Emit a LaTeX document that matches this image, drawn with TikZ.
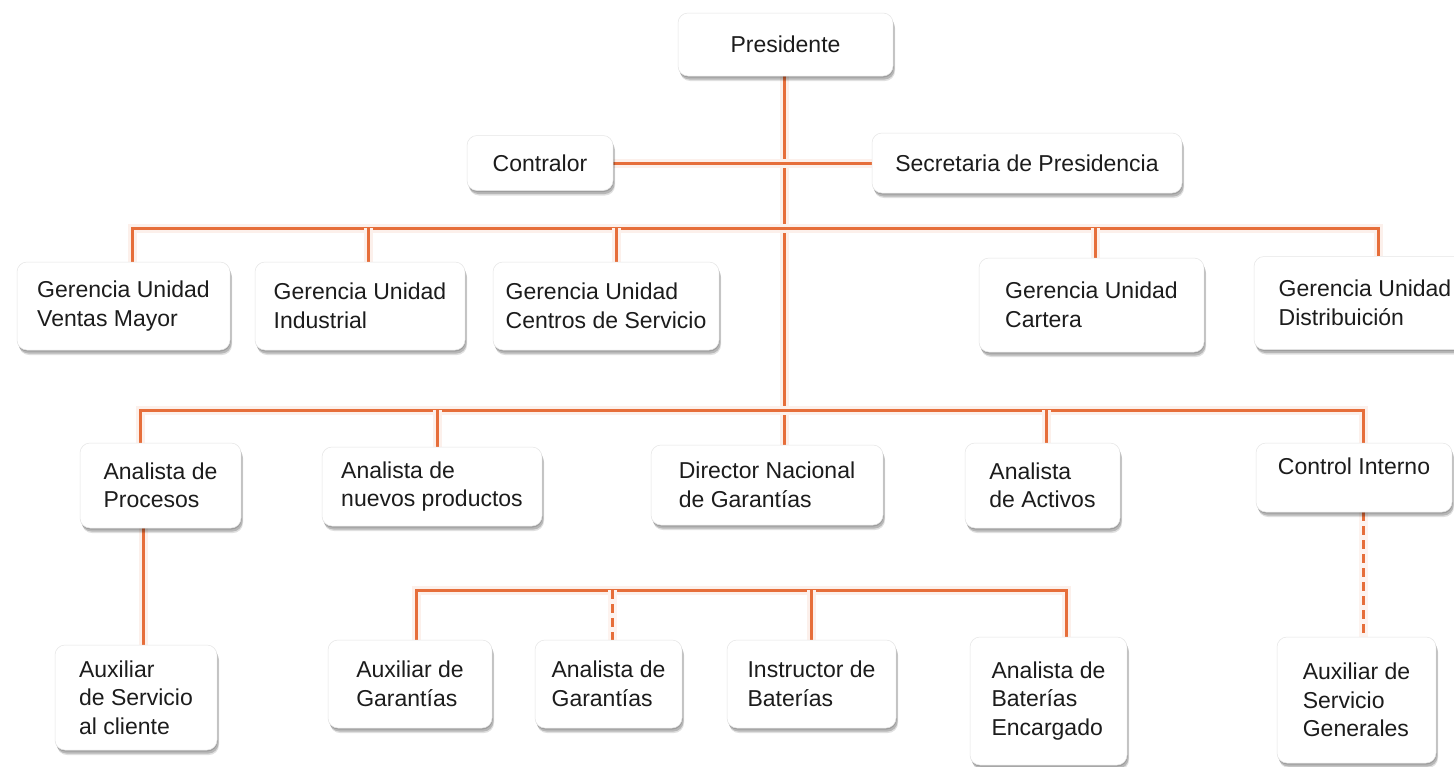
\documentclass[tikz,border=0pt]{standalone}
\usepackage{fontspec}
\setmainfont{Liberation Sans}
\usetikzlibrary{shadows,backgrounds,calc}
\definecolor{lineor}{RGB}{230,110,58}
\definecolor{txt}{RGB}{28,28,28}
\tikzset{
  box/.style={rounded corners=10pt, fill=white, draw=black!10, line width=0.5pt,
    align=left, inner sep=0pt, text=txt, font=\fontsize{23}{28.5}\selectfont,
    drop shadow={shadow xshift=2pt, shadow yshift=-5pt, opacity=0.12, fill=black},
    drop shadow={shadow xshift=1.5pt, shadow yshift=-3.5pt, opacity=0.18, fill=black},
    drop shadow={shadow xshift=0.5pt, shadow yshift=-1.5pt, opacity=0.14, fill=black}},
  link/.style={draw=lineor, line width=3pt,
    preaction={draw=lineor!10, line width=9pt, solid}},
  dlink/.style={draw=lineor, line width=3pt, dash pattern=on 9pt off 5pt,
    preaction={draw=lineor!8, line width=9pt, solid}}
}
\begin{document}
\begin{tikzpicture}[x=1pt,y=-1pt]
\useasboundingbox (0,0) rectangle (1454,766);

% level 0/1
\node[box, minimum width=215pt, minimum height=63pt] (pres) at (785.5,44.5) {Presidente};
\node[box, minimum width=146pt, minimum height=55pt] (con) at (540,163) {Contralor};
\node[box, minimum width=310pt, minimum height=60pt] (sec) at (1027,163) {Secretaria de Presidencia};

% gerencias
\node[box, minimum width=213pt, minimum height=88pt] (gvm) at (123.5,306) {Gerencia Unidad\\Ventas Mayor};
\node[box, minimum width=210pt, minimum height=88pt] (gi) at (360,306) {Gerencia Unidad\\Industrial};
\node[box, minimum width=226pt, minimum height=88pt] (gc) at (606,306) {Gerencia Unidad\\Centros de Servicio};
\node[box, minimum width=225pt, minimum height=94pt] (gca) at (1091.5,305) {Gerencia Unidad\\Cartera};
\node[box, minimum width=222pt, minimum height=93pt] (gd) at (1365,303) {Gerencia Unidad\\Distribuición};

% analistas
\node[box, minimum width=161pt, minimum height=85pt] (ap) at (160.5,485.5) {Analista de\\Procesos};
\node[box, minimum width=220pt, minimum height=79pt] (anp) at (432,486.5) {Analista de\\nuevos productos};
\node[box, minimum width=232pt, minimum height=80pt] (dir) at (767,485) {Director Nacional\\de Garantías};
\node[box, minimum width=155pt, minimum height=85pt] (aa) at (1042.5,485.5) {Analista\\de Activos};
\node[box, minimum width=196pt, minimum height=69pt] (ci) at (1354,477.5) {\rule[-22pt]{0pt}{22pt}Control Interno};

% bottom row
\node[box, minimum width=162pt, minimum height=105pt] (acl) at (136,697.5) {Auxiliar\\de Servicio\\al cliente};
\node[box, minimum width=164pt, minimum height=88pt] (ag) at (410,684) {Auxiliar de\\Garantías};
\node[box, minimum width=147pt, minimum height=88pt] (ang) at (608.5,684) {Analista de\\Garantías};
\node[box, minimum width=169pt, minimum height=88pt] (ib) at (811.5,684) {Instructor de\\Baterías};
\node[box, minimum width=157pt, minimum height=128pt] (abe) at (1048.5,701) {Analista de\\Baterías\\Encargado};
\node[box, minimum width=159pt, minimum height=126pt] (asg) at (1356.5,700) {Auxiliar de\\Servicio\\Generales};

% bus coordinates
\coordinate (b1) at (784,228);
\coordinate (b2) at (784,410);
\coordinate (b3) at (740,590);
\coordinate (xm) at (784,0);
\coordinate (x1) at (132,0);
\coordinate (x2) at (368,0);
\coordinate (x3) at (616,0);
\coordinate (x4) at (1095,0);
\coordinate (x5) at (1378,0);
\coordinate (y1) at (140,0);
\coordinate (y2) at (437,0);
\coordinate (y4) at (1046,0);
\coordinate (y5) at (1363,0);
\coordinate (z0) at (143,0);
\coordinate (z1) at (416,0);
\coordinate (z2) at (612,0);
\coordinate (z3) at (811.5,0);
\coordinate (z4) at (1066,0);

\begin{pgfonlayer}{background}
  \fill[white] (0,0) rectangle (1454,766);
  % presidente line
  \draw[link] (pres.south -| xm) -- (dir.north -| xm);
  \draw[link] (con.east) -- (sec.west);
  % bus 1
  \draw[link] (gvm.north -| x1) -- (b1 -| x1) -- (b1 -| x5) -- (gd.north -| x5);
  \draw[link] (b1 -| x2) -- (gi.north -| x2);
  \draw[link] (b1 -| x3) -- (gc.north -| x3);
  \draw[link] (b1 -| x4) -- (gca.north -| x4);
  % bus 2
  \draw[link] (ap.north -| y1) -- (b2 -| y1) -- (b2 -| y5) -- (ci.north -| y5);
  \draw[link] (b2 -| y2) -- (anp.north -| y2);
  \draw[link] (b2 -| y4) -- (aa.north -| y4);
  % procesos -> auxiliar
  \draw[link] (ap.south -| z0) -- (acl.north -| z0);
  % bus 3
  \draw[link] (ag.north -| z1) -- (b3 -| z1) -- (b3 -| z4) -- (abe.north -| z4);
  \draw[link] (b3 -| z3) -- (ib.north -| z3);
  \draw[dlink] (b3 -| z2) -- (ang.north -| z2);
  % control interno -> auxiliar
  \draw[dlink] (ci.south -| y5) -- (asg.north -| y5);
\end{pgfonlayer}
\end{tikzpicture}
\end{document}
